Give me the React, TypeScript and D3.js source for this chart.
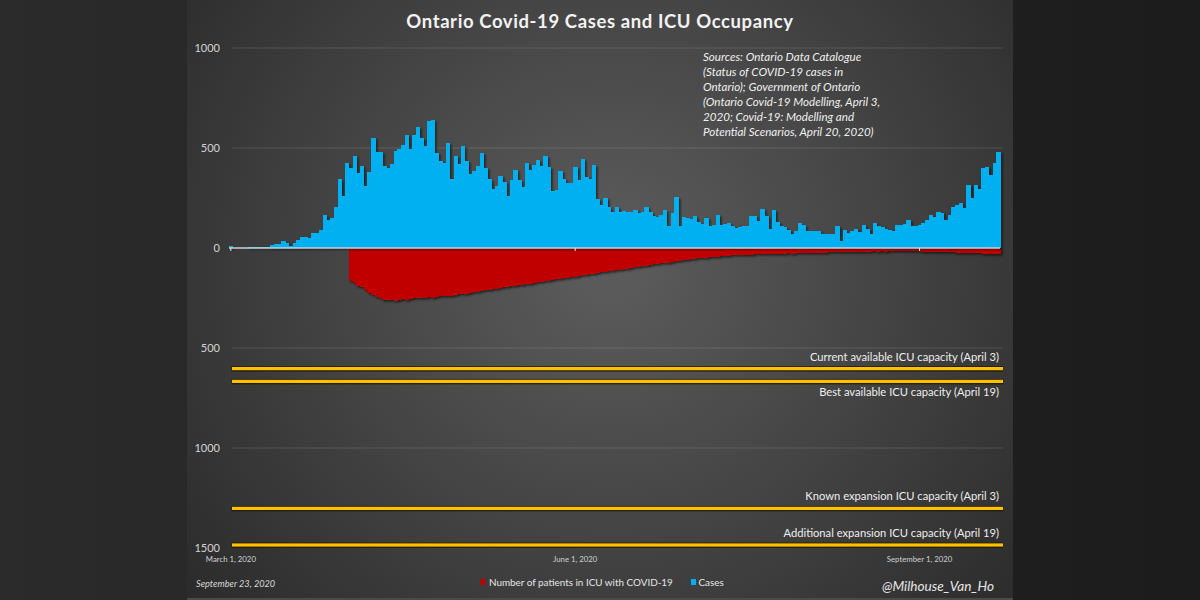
import React from "react";
import * as d3 from "d3";

// ---------- DATA ----------
const casesMar = [8, 2, 1, 2, 2, 3, 4, 3, 4, 4, 5, 13, 20, 20, 37, 25, 12, 23, 40, 57, 57, 48, 75, 77, 92, 165, 140, 150, 207, 345, 258];
const casesApr = [426, 401, 462, 375, 408, 309, 379, 550, 478, 482, 411, 401, 421, 483, 494, 514, 565, 497, 567, 606, 551, 510, 634, 640, 476, 437, 424, 525, 347, 459];
const casesMay = [421, 511, 434, 370, 387, 412, 477, 399, 346, 294, 308, 361, 329, 258, 341, 391, 340, 304, 427, 390, 413, 441, 412, 460, 404, 287, 292, 383, 344, 323, 326];
const casesJun = [404, 338, 446, 356, 344, 415, 243, 215, 251, 203, 182, 203, 182, 184, 181, 178, 190, 173, 180, 206, 178, 161, 153, 163, 189, 111, 175, 257, 112, 157];
const casesJul = [148, 143, 160, 132, 118, 148, 110, 113, 163, 115, 118, 123, 110, 98, 107, 111, 108, 158, 158, 133, 197, 158, 97, 188, 128, 112, 103, 92, 72, 83, 125];
const casesAug = [117, 83, 83, 83, 83, 70, 70, 70, 70, 108, 33, 92, 75, 83, 97, 80, 117, 97, 70, 125, 108, 105, 95, 88, 83, 113, 117, 120, 142, 108, 108];
const casesSep = [114, 125, 138, 163, 153, 180, 175, 142, 163, 205, 213, 225, 200, 313, 251, 315, 293, 401, 407, 365, 425, 478];

const icuMar = [0, 0, 0, 0, 0, 0, 0, 0, 0, 0, 0, 0, 0, 0, 0, 0, 0, 0, 0, 0, 0, 0, 0, 0, 0, 0, 0, 0, 0, 0, 0];
const icuApr = [0, 167, 174, 188, 196, 210, 226, 235, 246, 252, 258, 260, 262, 263, 258, 255, 258, 256, 252, 250, 252, 248, 246, 250, 244, 242, 240, 238, 240, 236];
const icuMay = [232, 230, 228, 225, 222, 220, 216, 212, 210, 205, 203, 200, 196, 193, 190, 188, 186, 183, 180, 178, 175, 172, 170, 166, 163, 160, 157, 154, 151, 148, 146];
const icuJun = [143, 141, 137, 136, 131, 129, 126, 121, 120, 116, 115, 111, 109, 106, 104, 99, 97, 95, 90, 88, 86, 81, 80, 76, 74, 73, 68, 66, 64, 60];
const icuJul = [58, 56, 53, 52, 49, 48, 46, 44, 44, 41, 40, 39, 37, 37, 35, 35, 33, 34, 32, 32, 31, 30, 31, 29, 30, 28, 29, 27, 28, 26, 27];
const icuAug = [26, 25, 26, 24, 24, 23, 24, 22, 22, 21, 22, 20, 21, 19, 20, 19, 18, 19, 18, 17, 18, 17, 18, 16, 17, 16, 17, 16, 17, 16, 17];
const icuSep = [17, 18, 18, 19, 19, 20, 20, 21, 22, 22, 23, 23, 24, 25, 25, 26, 27, 28, 28, 29, 30, 31];

const cases = [...casesMar, ...casesApr, ...casesMay, ...casesJun, ...casesJul, ...casesAug, ...casesSep];
const icu = [...icuMar, ...icuApr, ...icuMay, ...icuJun, ...icuJul, ...icuAug, ...icuSep];

const startDate = new Date(2020, 2, 1);
const dates = cases.map((_, i) => d3.timeDay.offset(startDate, i));

const yTicks = [1000, 500, 0, -500, -1000, -1500];
const gridTicks = [1000, 500, -500, -1000];
const xTickDates = [new Date(2020, 2, 1), new Date(2020, 5, 1), new Date(2020, 8, 1)];
const xTickLabels = ["March 1, 2020", "June 1, 2020", "September 1, 2020"];

const capacityValues = [603, 667, 1302, 1485];
const capacityLabels = [
  "Current available ICU capacity (April 3)",
  "Best available ICU capacity (April 19)",
  "Known expansion ICU capacity (April 3)",
  "Additional expansion ICU capacity (April 19)",
];
const capacityLabelAbove = [true, false, true, true];

const sourceLines = [
  "Sources: Ontario Data Catalogue",
  "(Status of COVID-19 cases in",
  "Ontario); Government of Ontario",
  "(Ontario Covid-19 Modelling, April 3,",
  "2020; Covid-19: Modelling and",
  "Potential Scenarios, April 20, 2020)",
];

const title = "Ontario Covid-19 Cases and ICU Occupancy";
const legendItems = [
  { label: "Number of patients in ICU with COVID-19", color: "#C00000" },
  { label: "Cases", color: "#00B0F0" },
];

// ---------- CHART ----------
const W = 1200;
const H = 600;
const FONT = "Lato, 'Open Sans', sans-serif";

export default function App() {
  const x = d3
    .scaleBand<Date>()
    .domain(dates)
    .range([229, 1000])
    .padding(0);
  const y = d3.scaleLinear().domain([-1500, 1000]).range([548, 48]);
  const bw = x.bandwidth();
  const lineX0 = 232;
  const lineX1 = 1003;

  return (
    <svg
      width={W}
      height={H}
      style={{ position: "absolute", left: 0, top: 0, display: "block" }}
      fontFamily={FONT}
    >
      <defs>
        <linearGradient id="outer" x1="0" x2="1" y1="0" y2="0">
          <stop offset="0" stopColor="#2b2b2b" />
          <stop offset="1" stopColor="#1c1c1c" />
        </linearGradient>
        <radialGradient id="panel" gradientUnits="userSpaceOnUse" cx={610} cy={260} r={560}>
          <stop offset="0" stopColor="#5d5d5d" />
          <stop offset="0.45" stopColor="#464646" />
          <stop offset="1" stopColor="#292929" />
        </radialGradient>
        <filter id="shadow" x="-5%" y="-5%" width="110%" height="120%">
          <feDropShadow dx="1.5" dy="1.5" stdDeviation="1.2" floodColor="#000" floodOpacity="0.6" />
        </filter>
      </defs>

      <rect x={0} y={0} width={W} height={H} fill="url(#outer)" />
      <rect x={187} y={0} width={826} height={598} fill="url(#panel)" />
      <rect x={187} y={598} width={826} height={2} fill="#4a4a4a" />

      {/* title */}
      <text
        x={600}
        y={28}
        textAnchor="middle"
        fontSize={18.5}
        fontWeight="bold"
        letterSpacing={0.6}
        fill="#f2f2f2"
      >
        {title}
      </text>

      {/* gridlines */}
      {gridTicks.map((t) => (
        <line
          key={"g" + t}
          x1={lineX0}
          x2={lineX1}
          y1={y(t)}
          y2={y(t)}
          stroke="#ffffff"
          strokeOpacity={0.13}
          strokeWidth={1}
        />
      ))}

      {/* y tick labels */}
      {yTicks.map((t) => (
        <text
          key={"y" + t}
          x={220}
          y={y(t)}
          dy="0.35em"
          textAnchor="end"
          fontSize={11}
          fill="#d4d4d4"
        >
          {Math.abs(t)}
        </text>
      ))}

      {/* ICU bars (negative) */}
      <g filter="url(#shadow)" shapeRendering="crispEdges">
        {icu.map((v, i) =>
          v > 0 ? (
            <rect
              key={"r" + i}
              x={x(dates[i])!}
              y={y(0)}
              width={bw + 0.6}
              height={y(-v) - y(0)}
              fill="#C00000"
            />
          ) : null
        )}
      </g>

      {/* cases bars */}
      <g filter="url(#shadow)" shapeRendering="crispEdges">
        {cases.map((v, i) => (
          <rect
            key={"b" + i}
            x={x(dates[i])!}
            y={y(v)}
            width={bw + 0.6}
            height={y(0) - y(v)}
            fill="#00B0F0"
          />
        ))}
      </g>

      {/* zero line */}
      <line x1={229} x2={1000} y1={y(0)} y2={y(0)} stroke="#c8d3da" strokeWidth={1.3} />
      {xTickDates.map((d, i) => (
        <line
          key={"xt" + i}
          x1={x(d)! + bw / 2}
          x2={x(d)! + bw / 2}
          y1={y(0)}
          y2={y(0) + 3}
          stroke="#e8e8e8"
          strokeWidth={1}
        />
      ))}

      {/* capacity lines */}
      {capacityValues.map((v, i) => (
        <g key={"c" + i}>
          <rect
            x={lineX0 - 0.5}
            y={y(-v) - 2.5}
            width={lineX1 - lineX0 + 1}
            height={5.5}
            fill="#1e1800"
            opacity={0.75}
          />
          <rect
            x={lineX0}
            y={y(-v) - 1.6}
            width={lineX1 - lineX0}
            height={3.2}
            fill="#FFC000"
          />
          <text
            x={999}
            y={capacityLabelAbove[i] ? y(-v) - 8 : y(-v) + 15}
            textAnchor="end"
            fontSize={11.2}
            fill="#eeeeee"
          >
            {capacityLabels[i]}
          </text>
        </g>
      ))}

      {/* x tick labels */}
      {xTickDates.map((d, i) => (
        <text
          key={"xl" + i}
          x={x(d)! + bw / 2}
          y={562}
          textAnchor="middle"
          fontSize={7.8}
          fill="#d0d0d0"
        >
          {xTickLabels[i]}
        </text>
      ))}

      {/* sources */}
      {sourceLines.map((s, i) => (
        <text
          key={"s" + i}
          x={703}
          y={61 + i * 14.9}
          fontSize={11.6}
          fontStyle="italic"
          fill="#f0f0f0"
        >
          {s}
        </text>
      ))}

      {/* footer */}
      <text x={196} y={587} fontSize={9.2} fontStyle="italic" fill="#d8d8d8">
        September 23, 2020
      </text>
      <g>
        <rect x={480.5} y={579} width={5} height={6} fill={legendItems[0].color} />
        <text x={489} y={586} fontSize={9.9} fill="#e6e6e6">
          {legendItems[0].label}
        </text>
        <rect x={691} y={579} width={5} height={6} fill={legendItems[1].color} />
        <text x={698.5} y={586} fontSize={9.9} fill="#e6e6e6">
          {legendItems[1].label}
        </text>
      </g>
      <text x={882} y={591} fontSize={13.6} fontStyle="italic" fill="#e6e6e6">
        @Milhouse_Van_Ho
      </text>
    </svg>
  );
}
